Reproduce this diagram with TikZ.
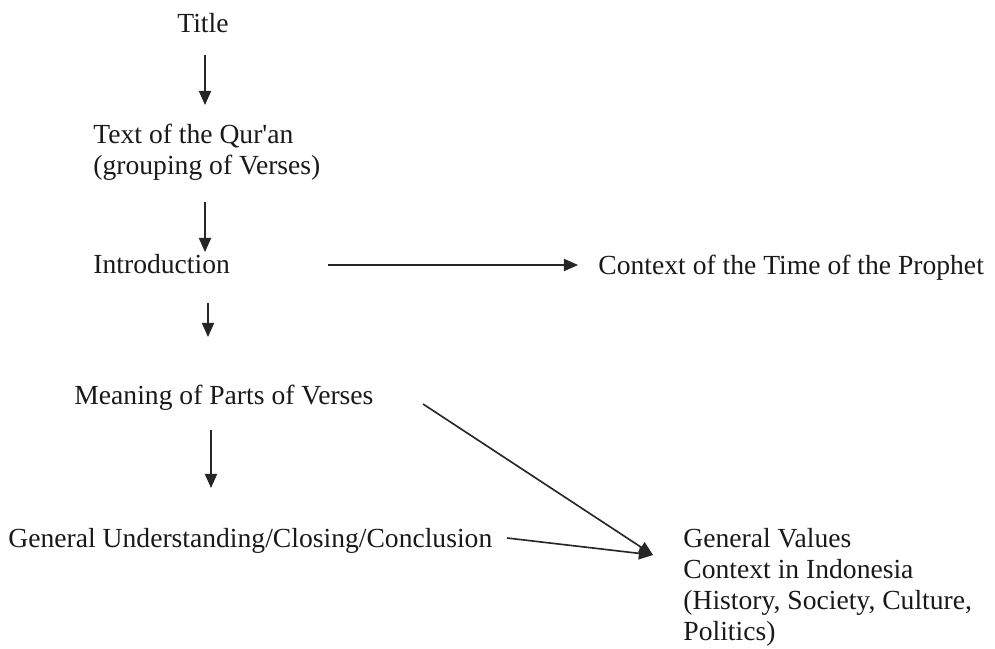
\documentclass[tikz,border=0pt]{standalone}
\usepackage{fontspec}
\setmainfont{Liberation Serif}
\usetikzlibrary{arrows.meta}
\usetikzlibrary{calc}

\begin{document}
\begin{tikzpicture}[x=0.46pt,y=-0.46pt,
    lbl/.style={inner sep=0pt,font=\fontsize{12.7}{14.3}\selectfont,align=left,text=black!90},
    arr/.style={-{Triangle[length=6.5pt,width=5.6pt]},line width=0.75pt,black!85}]
    \useasboundingbox (0,0) rectangle (995,649);
    % texts
    \node[lbl,anchor=base] (title) at (203,32) {Title};
    \node[lbl,anchor=north west] (quran) at (93,124) {Text of the Qur\textquotesingle an\\(grouping of Verses)};
    \node[lbl,anchor=base west] (intro) at (93,273) {Introduction};
    \node[lbl,anchor=base west] (context) at (598,274) {Context of the Time of the Prophet};
    \node[lbl,anchor=base west] (meaning) at (74,404) {Meaning of Parts of Verses};
    \node[lbl,anchor=base west] (general) at (8,547) {General Understanding/Closing/Conclusion};
    \node[lbl,anchor=north west] (values) at (683,528) {General Values\\Context in Indonesia\\(History, Society, Culture,\\Politics)};
    \coordinate (meet) at (653,555);
    % arrows
    \draw[arr] ($(title.base)+(2,23)$) -- ($(title.base)+(2,73)$);
    \draw[arr] ($(quran.north west)+(112,78)$) -- ($(quran.north west)+(112,128)$);
    \draw[arr] ($(intro.base west)+(115,30)$) -- ($(intro.base west)+(115,64)$);
    \draw[arr] ($(intro.base west)+(235,-8)$) -- ($(context.base west)+(-20,-9)$);
    \draw[arr] ($(meaning.base west)+(137,26)$) -- ($(meaning.base west)+(137,84)$);
    \draw[arr] ($(meaning.base west)+(349,0)$) -- (meet);
    \draw[arr] ($(general.base west)+(499,-9)$) -- (meet);
\end{tikzpicture}
\end{document}
